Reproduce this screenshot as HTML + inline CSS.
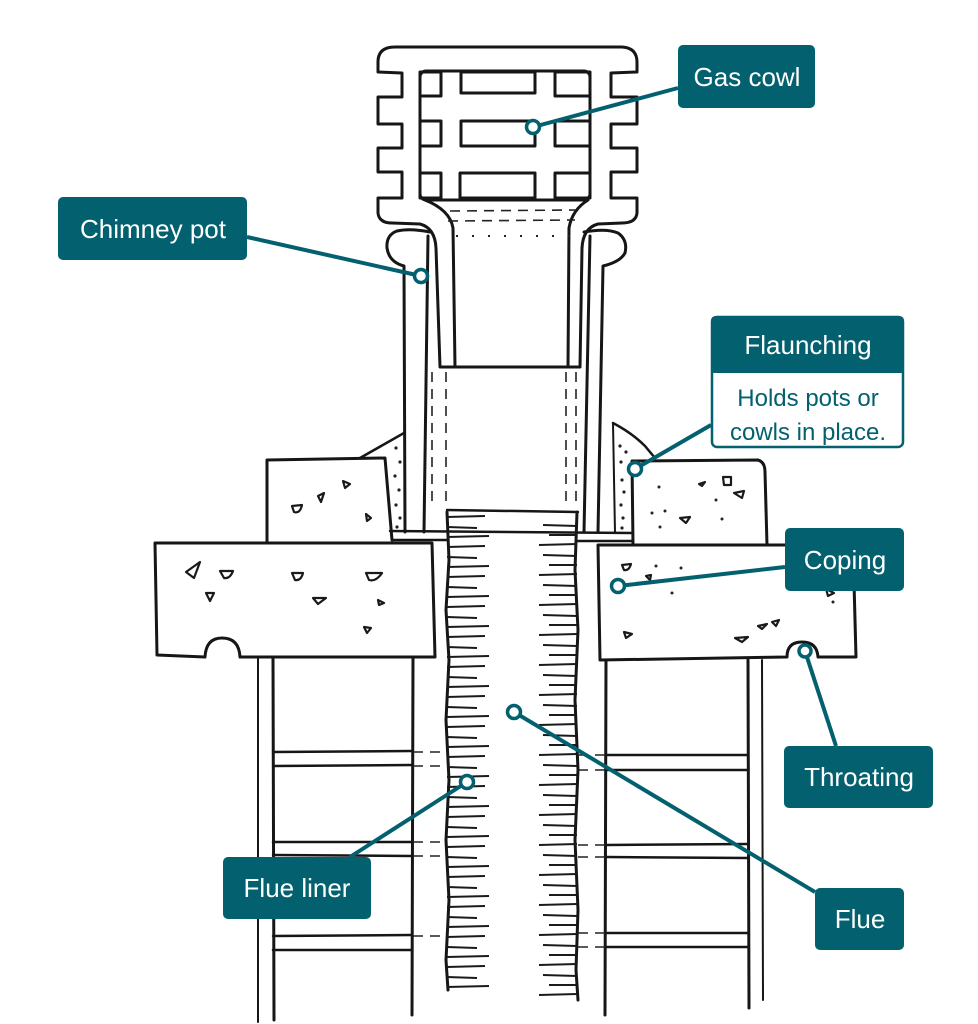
<!DOCTYPE html>
<html><head><meta charset="utf-8"><style>
html,body{margin:0;padding:0;background:#fff;}
svg{display:block;}
text{font-family:"Liberation Sans",sans-serif;}
</style></head><body>
<svg width="978" height="1024" viewBox="0 0 978 1024" xmlns="http://www.w3.org/2000/svg">
<defs>
<pattern id="tl" x="447" y="514" width="50" height="30" patternUnits="userSpaceOnUse">
<path d="M0,3 L38,2 M0,13 L30,14 M0,23 L42,22" stroke="#1a1a1a" stroke-width="2" fill="none"/>
</pattern>
<pattern id="tr" x="537" y="518" width="40" height="30" patternUnits="userSpaceOnUse">
<path d="M6,7 L40,8 M12,17 L40,17 M2,27 L40,26" stroke="#1a1a1a" stroke-width="2" fill="none"/>
</pattern>
</defs>
<g fill="none" stroke="#161616" stroke-width="3" stroke-linejoin="round" stroke-linecap="round">
<!-- cowl outer -->
<path d="M440,367 L436,248 Q435,228 420,224 L392,223 Q379,223 378,213 L378,198 L402,198 L402,172 L378,172 L378,148 L402,148 L402,124 L378,124 L378,97 L402,97 L402,73 L378,72 L378,62 Q378,47 395,47 L622,47 Q637,48 637,62 L637,72 L611,73 L611,97 L637,97 L637,124 L611,124 L611,148 L637,148 L637,172 L611,172 L611,198 L637,198 L637,213 Q636,223 622,223 L598,224 Q583,228 582,248 L580,367 Z"/>
<!-- inner spigot -->
<path d="M455,367 L453,228 Q450,210 425,200"/>
<path d="M568,367 L569,228 Q572,210 588,200"/>
<!-- frame & windows -->
<rect x="420" y="71" width="170" height="129" rx="6"/>
<rect x="420" y="72" width="21" height="24"/>
<rect x="461" y="72" width="74" height="21"/>
<rect x="555" y="72" width="35" height="24"/>
<rect x="420" y="121" width="21" height="25"/>
<rect x="461" y="121" width="74" height="25"/>
<rect x="555" y="121" width="35" height="25"/>
<rect x="420" y="173" width="21" height="25"/>
<rect x="460" y="173" width="75" height="25"/>
<rect x="555" y="173" width="35" height="25"/>
<!-- chimney pot -->
<path d="M430,232 Q410,228 397,231 Q386,235 387,248 Q389,262 404,266 L405,532"/>
<path d="M428,236 L424,532"/>
<path d="M584,232 Q606,228 618,233 Q628,240 625,253 Q620,262 603,266 L598,532"/>
<path d="M590,236 L584,532"/>
<!-- plate -->
<path d="M390,531 L632,533" stroke-width="2.5"/>
<path d="M392,540 L447,540 M577,541 L632,541" stroke-width="2.5"/>
<path d="M447,510 L578,512" stroke-width="2.5"/>
<!-- flaunching -->
<path d="M360,458 L404,433" stroke-width="2.5"/>
<path d="M613,423 Q632,433 645,446 L655,458" stroke-width="2.5"/>
<path d="M613,423 L615,533" stroke-width="2"/>
<!-- upper blocks -->
<path d="M267,542 L267,460 L385,458 L392,540"/>
<path d="M633,544 L632,461 L758,460 Q765,462 765,472 L767,545"/>
<!-- lower slabs -->
<path d="M157,655 L155,543 L432,543 L435,657 L240,657 Q239,638 222,638 Q206,638 205,657 Z"/>
<path d="M600,660 L598,545 L853,545 L856,657 L818,657 Q817,642 802,642 Q787,642 787,657 Z"/>
<!-- stack walls -->
<path d="M258,657 L258,1022" stroke-width="2"/>
<path d="M273,657 L274,1020"/>
<path d="M413,657 L412,1015"/>
<path d="M606,660 L605,1015"/>
<path d="M748,660 L749,1008"/>
<path d="M762,660 L763,1000" stroke-width="2"/>
<!-- courses -->
<path d="M273,752 L412,751 M273,766 L412,765 M273,842 L412,842 M273,855 L412,856 M273,936 L412,935 M273,950 L412,950" stroke-width="2.5"/>
<path d="M606,755 L748,755 M606,770 L748,770 M606,845 L748,844 M606,857 L748,858 M606,933 L748,933 M606,947 L748,947" stroke-width="2.5"/>
<!-- liner walls -->
<path d="M447,512 L449,560 L446,610 L449,660 L446,720 L449,780 L446,840 L449,900 L446,960 L448,990"/>
<path d="M577,512 L575,570 L578,630 L575,700 L578,770 L575,840 L578,910 L576,970 L578,1000"/>
</g>
<rect x="447" y="514" width="46" height="474" fill="url(#tl)"/>
<rect x="537" y="518" width="40" height="480" fill="url(#tr)"/>
<!-- dashed -->
<g stroke="#222" stroke-width="1.6" fill="none" stroke-dasharray="10 7">
<path d="M432,372 L432,505 M446,372 L446,505 M566,372 L566,505 M576,372 L576,505"/>
<path d="M450,211 L576,210 M448,221 L575,220"/>
<path d="M413,752 L445,752 M413,766 L445,766 M413,842 L445,842 M413,856 L445,856 M413,936 L445,936 M578,755 L605,755 M578,770 L605,770 M578,845 L605,845 M578,857 L605,857 M578,933 L605,933 M578,947 L605,947"/>
</g>
<path d="M456,236 L572,236" stroke="#222" stroke-width="2" stroke-dasharray="2 14" fill="none"/>
<!-- flaunching dots -->
<g fill="#222">
<circle cx="396" cy="448" r="1.6"/><circle cx="400" cy="462" r="1.6"/><circle cx="395" cy="476" r="1.6"/><circle cx="399" cy="490" r="1.6"/><circle cx="396" cy="505" r="1.6"/><circle cx="400" cy="518" r="1.6"/><circle cx="397" cy="527" r="1.6"/>
<circle cx="620" cy="446" r="1.6"/><circle cx="626" cy="452" r="1.6"/><circle cx="621" cy="462" r="1.6"/><circle cx="622" cy="480" r="1.6"/><circle cx="624" cy="492" r="1.6"/><circle cx="621" cy="505" r="1.6"/><circle cx="623" cy="518" r="1.6"/><circle cx="622" cy="528" r="1.6"/>
<circle cx="659" cy="487" r="1.5"/><circle cx="652" cy="513" r="1.5"/><circle cx="665" cy="511" r="1.5"/><circle cx="660" cy="527" r="1.5"/><circle cx="716" cy="500" r="1.5"/><circle cx="722" cy="519" r="1.5"/><circle cx="656" cy="566" r="1.5"/><circle cx="681" cy="568" r="1.5"/><circle cx="672" cy="593" r="1.5"/><circle cx="833" cy="602" r="1.5"/>
</g>
<!-- aggregates -->
<g fill="none" stroke="#1a1a1a" stroke-width="2.2" stroke-linejoin="round">
<path d="M186,572 L200,562 L194,578 Z"/><path d="M220,571 L233,571 Q230,579 224,578 Z"/><path d="M206,593 L214,593 L210,601 Z"/>
<path d="M292,573 L303,573 Q301,581 295,580 Z"/><path d="M313,598 L326,598 L318,604 Z"/><path d="M366,573 L382,573 Q376,582 369,580 Z"/><path d="M378,600 L384,603 L379,605 Z"/><path d="M364,627 L371,628 L367,633 Z"/>
<path d="M292,506 L302,505 Q300,514 294,512 Z"/><path d="M318,496 L324,493 L321,502 Z"/><path d="M343,481 L350,484 L345,488 Z"/><path d="M366,514 L371,518 L367,521 Z"/>
<path d="M723,477 L731,477 L731,485 L724,485 Z"/><path d="M734,493 L744,491 L742,498 Z"/><path d="M699,484 L705,482 L702,486 Z"/><path d="M680,518 L690,517 L686,523 Z"/>
<path d="M622,565 L631,564 Q629,571 624,570 Z"/><path d="M646,576 L651,575 L650,580 Z"/><path d="M624,632 L632,634 L626,638 Z"/><path d="M735,638 L748,637 L742,642 Z"/><path d="M758,626 L767,624 L762,629 Z"/><path d="M772,622 L779,620 L776,626 Z"/><path d="M826,589 L834,593 L828,596 Z"/>
</g>
<!-- leader lines -->
<g stroke="#03616f" stroke-width="4" fill="none">
<path d="M533,127 L678,88"/>
<path d="M247,237 L421,276"/>
<path d="M635,469 L711,425"/>
<path d="M618,586 L785,567"/>
<path d="M805,651 L836,746"/>
<path d="M514,712 L815,892"/>
<path d="M467,782 L350,857"/>
</g>
<g stroke="#03616f" stroke-width="3.5" fill="#fff">
<circle cx="533" cy="127" r="6.5"/><circle cx="421" cy="276" r="6.5"/><circle cx="635" cy="469" r="6.5"/><circle cx="618" cy="586" r="6.5"/><circle cx="805" cy="651" r="6"/><circle cx="514" cy="712" r="6.5"/><circle cx="467" cy="782" r="6.5"/>
</g>
<!-- labels -->
<g fill="#03616f">
<rect x="678" y="45" width="137" height="63" rx="5"/>
<rect x="58" y="197" width="189" height="63" rx="5"/>
<rect x="785" y="528" width="119" height="63" rx="5"/>
<rect x="784" y="746" width="149" height="62" rx="5"/>
<rect x="815" y="888" width="89" height="62" rx="5"/>
<rect x="223" y="857" width="148" height="62" rx="5"/>
</g>
<rect x="712" y="317" width="191" height="130" rx="5" fill="#fff" stroke="#03616f" stroke-width="2.5"/>
<path d="M711,373 L711,321 Q711,316 716,316 L899,316 Q904,316 904,321 L904,373 Z" fill="#03616f"/>
<g fill="#fff" font-size="26" text-anchor="middle">
<text x="747" y="86">Gas cowl</text>
<text x="153" y="238">Chimney pot</text>
<text x="808" y="354">Flaunching</text>
<text x="845" y="569">Coping</text>
<text x="859" y="786">Throating</text>
<text x="860" y="928">Flue</text>
<text x="297" y="897">Flue liner</text>
</g>
<g fill="#03616f" font-size="24" text-anchor="middle">
<text x="808" y="406">Holds pots or</text>
<text x="808" y="440">cowls in place.</text>
</g>
</svg>
</body></html>
